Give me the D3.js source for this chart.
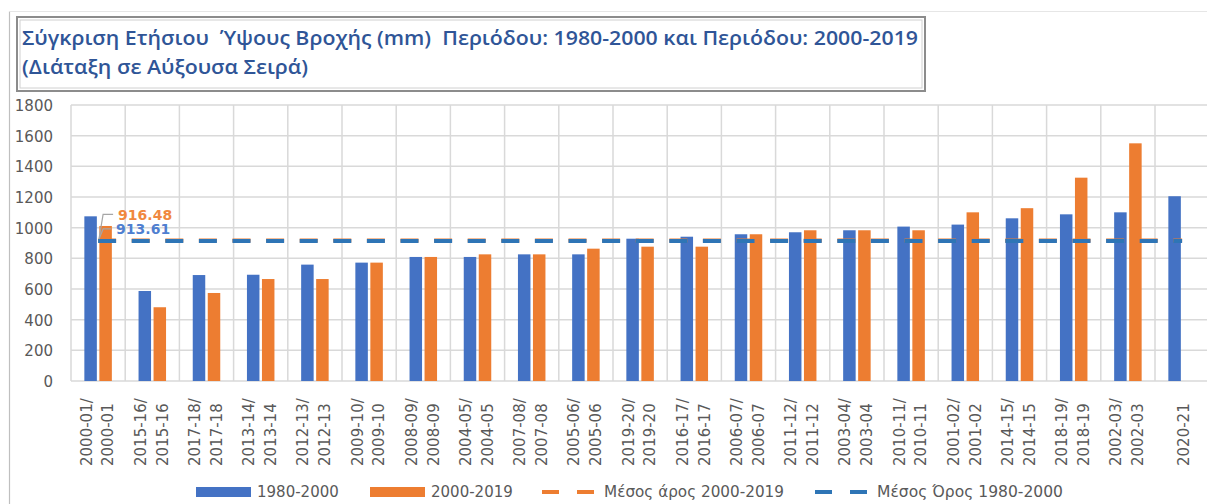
<!DOCTYPE html>
<html><head><meta charset="utf-8">
<script src="https://cdn.jsdelivr.net/npm/d3@7"></script>
<style>html,body{margin:0;padding:0;background:#fff;overflow:hidden} text.title{white-space:pre}</style>
</head><body><svg id="c" width="1207" height="504"></svg>
<script>
// ---- data ----
const categories = ["2000-01/2000-01","2015-16/2015-16","2017-18/2017-18","2013-14/2013-14","2012-13/2012-13",
  "2009-10/2009-10","2008-09/2008-09","2004-05/2004-05","2007-08/2007-08","2005-06/2005-06",
  "2019-20/2019-20","2016-17/2016-17","2006-07/2006-07","2011-12/2011-12","2003-04/2003-04",
  "2010-11/2010-11","2001-02/2001-02","2014-15/2014-15","2018-19/2018-19","2002-03/2002-03","2020-21"];
const values1980_2000 = [1074,587,691,693,759,772,809,809,826,826,928,941,957,970,983,1007,1020,1061,1087,1100,1205];
const values2000_2019 = [1011,481,574,665,665,772,809,826,826,863,876,876,957,983,983,983,1100,1127,1326,1550,null];
const mean2000_2019 = 916.48;
const mean1980_2000 = 913.61;
const yTicks = [0,200,400,600,800,1000,1200,1400,1600,1800];
const seriesNames = ["1980-2000","2000-2019"];
const meanNames = ["Μέσος άρος 2000-2019","Μέσος Όρος 1980-2000"];
const titleLines = ["Σύγκριση Ετήσιου  Ύψους Βροχής (mm)  Περιόδου: 1980-2000 και Περιόδου: 2000-2019","(Διάταξη σε Αύξουσα Σειρά)"];

// ---- styles ----
const BLUE = "#4472c4", ORANGE = "#ed7d31", BLUE_LINE = "#2e75b6", GRID = "#d9d9d9", TXT = "#595959";
const FONT = "'DejaVu Sans', sans-serif";

const svg = d3.select("#c");
const plot = {left:71, right:1209.2, top:105, bottom:381};

const x = d3.scaleBand().domain(categories).range([plot.left, plot.right]).padding(0);
const xInner = d3.scaleBand().domain(seriesNames).range([0, x.bandwidth()]).paddingInner(0.167).paddingOuter(0.89);
const y = d3.scaleLinear().domain([0,1800]).range([plot.bottom, plot.top]);

// chart border
svg.append("line").attr("x1",9.5).attr("x2",9.5).attr("y1",11.5).attr("y2",504).attr("stroke","#bfbfbf").attr("stroke-width",1.2);
svg.append("line").attr("x1",9.5).attr("x2",1207).attr("y1",11.5).attr("y2",11.5).attr("stroke","#e6e6e6").attr("stroke-width",1);

// title box
svg.append("rect").attr("x",17).attr("y",17).attr("width",908).attr("height",74)
  .attr("fill","#fff").attr("stroke","#8c8c8c").attr("stroke-width",2);
svg.append("rect").attr("x",20).attr("y",20).attr("width",902).attr("height",68)
  .attr("fill","none").attr("stroke","#d0d0d0").attr("stroke-width",1);
const titleW = [896, 286];
svg.selectAll("text.title").data(titleLines).join("text").attr("class","title")
  .attr("x",22).attr("y",(d,i)=>45+i*29)
  .attr("xml:space","preserve")
  .attr("font-family","'Open Sans', sans-serif").attr("font-weight",600).attr("font-size",19.5)
  .attr("fill","#2f5597")
  .attr("textLength",(d,i)=>titleW[i]).attr("lengthAdjust","spacingAndGlyphs")
  .text(d=>d);

// gridlines
const g = svg.append("g");
g.selectAll("line.h").data(yTicks).join("line").attr("class","h")
  .attr("x1",plot.left).attr("x2",plot.right).attr("y1",d=>y(d)).attr("y2",d=>y(d))
  .attr("stroke",GRID).attr("stroke-width",1.5);
const bounds = categories.map(c=>x(c)).concat([x(categories[categories.length-1])+x.bandwidth()]);
g.selectAll("line.v").data(bounds).join("line").attr("class","v")
  .attr("x1",d=>d).attr("x2",d=>d).attr("y1",plot.top).attr("y2",plot.bottom)
  .attr("stroke",GRID).attr("stroke-width",1.5);

// y axis
const yAxis = d3.axisLeft(y).tickValues(yTicks).tickSize(0).tickPadding(0).tickFormat(d3.format("d"));
const ya = svg.append("g").attr("transform","translate(53,0)").call(yAxis);
ya.select(".domain").remove();
ya.selectAll("text").attr("font-family",FONT).attr("font-size",15).attr("fill",TXT).attr("dy","0.36em");

// bars
const rows = categories.map((c,i)=>({c, vals:[values1980_2000[i], values2000_2019[i]]}));
const colors = [BLUE, ORANGE];
const groups = svg.append("g").selectAll("g").data(rows).join("g").attr("transform",d=>`translate(${x(d.c)},0)`);
groups.selectAll("rect").data(d=>d.vals.map((v,k)=>({v,k})).filter(o=>o.v!=null)).join("rect")
  .attr("x",o=>xInner(seriesNames[o.k])).attr("width",xInner.bandwidth())
  .attr("y",o=>y(o.v)).attr("height",o=>y(0)-y(o.v)).attr("fill",o=>colors[o.k]);

// x labels
const xl = svg.append("g").selectAll("text").data(categories).join("text")
  .attr("font-family",FONT).attr("font-size",15).attr("fill",TXT)
  .attr("text-anchor","start")
  .attr("transform",d=>`translate(${x(d)+x.bandwidth()/2},466) rotate(-90)`);
xl.each(function(d){
  const parts = d.includes("/") ? [d.split("/")[0]+"/", d.split("/")[1]] : [d];
  const offs = parts.length===2 ? [-12,10] : [1];
  d3.select(this).selectAll("tspan").data(parts).join("tspan")
    .attr("x",0).attr("y",(p,i)=>offs[i]).attr("dy","0.36em").text(p=>p);
});

// mean lines
const line = d3.line().x(c=>x(c)+x.bandwidth()/2);
svg.append("path").datum(categories)
  .attr("d", line.y(()=>y(mean2000_2019)))
  .attr("fill","none").attr("stroke",ORANGE).attr("stroke-width",4).attr("stroke-dasharray","18,15.6");
svg.append("path").datum(categories)
  .attr("d", line.y(()=>y(mean1980_2000)))
  .attr("fill","none").attr("stroke",BLUE_LINE).attr("stroke-width",4).attr("stroke-dasharray","18,15.6");

// data labels with leader lines
const x0 = x(categories[0])+x.bandwidth()/2;
const labels = [
  {v:mean2000_2019, color:"#f0883f", dx:20, dy:-26},
  {v:mean1980_2000, color:"#4f7fd0", dx:18, dy:-12}
];
labels.forEach(l=>{
  const ly = y(l.v)+l.dy;
  svg.append("path").attr("d",`M${x0+l.dx-5},${ly} H${x0+5} L${x0+1},${y(l.v)-2}`)
    .attr("fill","none").attr("stroke","#a6a6a6").attr("stroke-width",1.2);
  svg.append("text").attr("x",x0+l.dx).attr("y",ly).attr("dy","0.36em")
    .attr("font-family",FONT).attr("font-weight","bold").attr("font-size",14).attr("fill",l.color)
    .text(d3.format(".2f")(l.v));
});

// legend
const LY = 492;
const leg = svg.append("g");
[[196,BLUE,seriesNames[0],257],[370,ORANGE,seriesNames[1],431]].forEach(([sx,col,t,tx])=>{
  leg.append("rect").attr("x",sx).attr("y",LY-5).attr("width",55).attr("height",10).attr("fill",col);
  leg.append("text").attr("x",tx).attr("y",LY).attr("dy","0.36em").attr("font-family",FONT).attr("font-size",15).attr("fill",TXT).text(t);
});
[[542,ORANGE,meanNames[0],604,180],[815,BLUE_LINE,meanNames[1],877,186]].forEach(([sx,col,t,tx,w])=>{
  leg.append("line").attr("x1",sx).attr("x2",sx+52).attr("y1",LY).attr("y2",LY)
    .attr("stroke",col).attr("stroke-width",4).attr("stroke-dasharray","17,18");
  leg.append("text").attr("x",tx).attr("y",LY).attr("dy","0.36em").attr("font-family",FONT).attr("font-size",15).attr("fill",TXT)
    .attr("textLength",w).attr("lengthAdjust","spacingAndGlyphs").text(t);
});
</script></body></html>
